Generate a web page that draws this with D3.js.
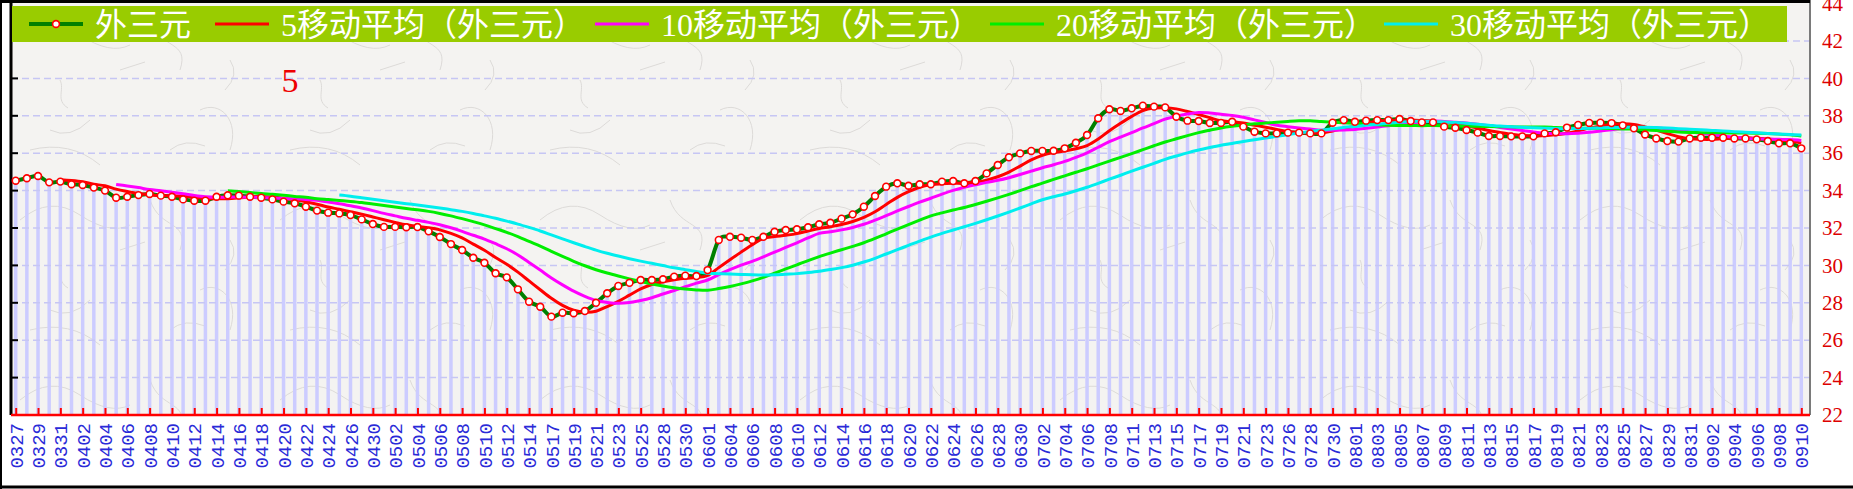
<!DOCTYPE html>
<html lang="zh">
<head>
<meta charset="UTF-8">
<title>外三元</title>
<script src="https://d3js.org/d3.v7.min.js"></script>
<style>
  body { margin: 0; background: #fff; }
  svg { display: block; }
</style>
</head>
<body>
<svg id="chart" width="1853" height="489"></svg>
<script>
// tick labels (every second draw)
const dateLabels = ['0327','0329','0331','0402','0404','0406','0408','0410','0412','0414','0416','0418','0420','0422','0424','0426','0430','0502','0504','0506','0508','0510','0512','0514','0517','0519','0521','0523','0525','0528','0530','0601','0604','0606','0608','0610','0612','0614','0616','0618','0620','0622','0624','0626','0628','0630','0702','0704','0706','0708','0711','0713','0715','0717','0719','0721','0723','0726','0728','0730','0801','0803','0805','0807','0809','0811','0813','0815','0817','0819','0821','0823','0825','0827','0829','0831','0902','0904','0906','0908','0910'];

// 外三元
const values = [34.53,34.66,34.78,34.44,34.48,34.34,34.30,34.16,34.00,33.62,
  33.67,33.76,33.82,33.73,33.67,33.53,33.46,33.46,33.67,33.75,
  33.73,33.67,33.62,33.53,33.41,33.32,33.14,32.93,32.82,32.78,
  32.69,32.46,32.21,32.06,32.06,32.04,32.05,31.82,31.52,31.14,
  30.82,30.41,30.14,29.58,29.36,28.72,28.06,27.79,27.26,27.47,
  27.44,27.56,28.00,28.51,28.90,29.07,29.22,29.22,29.26,29.40,
  29.45,29.43,29.75,31.36,31.53,31.48,31.36,31.53,31.80,31.89,
  31.93,32.04,32.20,32.28,32.50,32.73,33.14,33.71,34.21,34.39,
  34.26,34.34,34.34,34.48,34.51,34.39,34.51,34.92,35.37,35.78,
  35.99,36.12,36.12,36.13,36.26,36.56,36.97,37.87,38.35,38.26,
  38.40,38.54,38.49,38.45,37.95,37.74,37.72,37.62,37.62,37.68,
  37.42,37.15,37.06,37.06,37.10,37.10,37.06,37.06,37.63,37.77,
  37.68,37.74,37.77,37.77,37.83,37.72,37.65,37.65,37.42,37.36,
  37.24,37.10,36.92,36.92,36.90,36.90,36.90,37.06,37.12,37.37,
  37.51,37.62,37.63,37.61,37.49,37.33,37.00,36.79,36.65,36.62,
  36.79,36.83,36.83,36.83,36.79,36.79,36.74,36.65,36.53,36.53,
  36.26];

// moving averages, first value sits on draw index 4 / 9 / 19 / 29
const ma5 = [34.58,34.54,34.47,34.34,34.26,34.08,33.95,33.84,33.77,33.72,
  33.73,33.70,33.64,33.57,33.56,33.57,33.61,33.66,33.69,33.66,
  33.59,33.51,33.40,33.27,33.12,33.00,32.87,32.74,32.59,32.44,
  32.30,32.17,32.08,32.01,31.90,31.71,31.47,31.14,30.81,30.42,
  30.06,29.64,29.17,28.70,28.24,27.86,27.60,27.50,27.55,27.80,
  28.08,28.41,28.74,28.98,29.13,29.23,29.31,29.35,29.46,29.88,
  30.30,30.71,31.10,31.45,31.54,31.61,31.70,31.84,31.97,32.07,
  32.19,32.35,32.57,32.87,33.26,33.64,33.94,34.18,34.31,34.36,
  34.39,34.41,34.45,34.56,34.74,34.99,35.31,35.64,35.88,36.03,
  36.12,36.24,36.41,36.76,37.20,37.60,37.97,38.28,38.41,38.43,
  38.37,38.23,38.07,37.90,37.73,37.68,37.61,37.50,37.39,37.27,
  37.16,37.09,37.08,37.08,37.19,37.32,37.44,37.58,37.72,37.75,
  37.76,37.77,37.75,37.72,37.65,37.56,37.46,37.35,37.21,37.11,
  37.02,36.95,36.91,36.94,36.98,37.07,37.19,37.34,37.45,37.55,
  37.57,37.54,37.41,37.24,37.05,36.88,36.77,36.74,36.74,36.78,
  36.81,36.81,36.80,36.76,36.70,36.65,36.54];

const ma10 = [34.33,34.25,34.16,34.06,33.99,33.91,33.83,33.74,33.67,33.64,
  33.65,33.66,33.65,33.63,33.61,33.58,33.56,33.53,33.48,33.39,
  33.30,33.19,33.07,32.93,32.78,32.65,32.52,32.41,32.30,32.17,
  32.01,31.82,31.61,31.41,31.16,30.89,30.56,30.16,29.75,29.33,
  28.96,28.62,28.34,28.12,28.02,27.97,28.01,28.12,28.27,28.47,
  28.66,28.86,29.05,29.22,29.51,29.77,30.01,30.22,30.46,30.71,
  30.96,31.21,31.47,31.71,31.80,31.90,32.03,32.20,32.42,32.66,
  32.91,33.15,33.38,33.59,33.81,34.01,34.18,34.31,34.44,34.55,
  34.69,34.86,35.04,35.22,35.38,35.56,35.78,36.02,36.32,36.62,
  36.86,37.10,37.35,37.58,37.82,37.98,38.10,38.18,38.15,38.08,
  38.02,37.92,37.78,37.64,37.50,37.42,37.35,37.29,37.23,37.23,
  37.24,37.27,37.33,37.40,37.47,37.54,37.60,37.66,37.72,37.70,
  37.66,37.62,37.55,37.47,37.38,37.29,37.21,37.13,37.07,37.04,
  37.04,37.07,37.12,37.19,37.26,37.32,37.36,37.37,37.35,37.30,
  37.23,37.15,37.07,36.99,36.92,36.85,36.79,36.77,36.75,36.74,
  36.73,36.68];

const ma20 = [33.99,33.95,33.90,33.84,33.80,33.75,33.69,33.64,33.57,33.52,
  33.47,33.42,33.36,33.28,33.20,33.12,33.04,32.97,32.89,32.78,
  32.65,32.50,32.34,32.17,31.97,31.77,31.54,31.28,31.03,30.75,
  30.48,30.22,29.98,29.77,29.59,29.43,29.28,29.14,29.01,28.90,
  28.81,28.74,28.69,28.67,28.76,28.87,29.01,29.17,29.36,29.59,
  29.81,30.03,30.26,30.47,30.66,30.84,31.02,31.21,31.44,31.69,
  31.94,32.18,32.42,32.65,32.81,32.96,33.10,33.26,33.43,33.61,
  33.80,34.00,34.21,34.40,34.60,34.79,34.98,35.17,35.38,35.58,
  35.78,35.98,36.19,36.40,36.60,36.77,36.94,37.10,37.23,37.35,
  37.44,37.51,37.57,37.61,37.66,37.70,37.73,37.73,37.69,37.66,
  37.63,37.60,37.56,37.52,37.49,37.48,37.48,37.47,37.48,37.47,
  37.45,37.44,37.44,37.43,37.42,37.41,37.40,37.40,37.40,37.37,
  37.35,37.34,37.34,37.33,37.32,37.30,37.29,37.25,37.21,37.17,
  37.13,37.11,37.10,37.09,37.09,37.08,37.08,37.07,37.05,37.02,
  36.98,36.92];

const ma30 = [33.76,33.70,33.62,33.54,33.46,33.38,33.30,33.23,33.15,33.07,
  32.98,32.89,32.78,32.65,32.52,32.37,32.21,32.03,31.84,31.63,
  31.42,31.21,31.01,30.82,30.65,30.50,30.36,30.23,30.11,29.99,
  29.87,29.77,29.67,29.58,29.56,29.54,29.52,29.50,29.49,29.50,
  29.53,29.56,29.62,29.69,29.78,29.88,30.01,30.18,30.38,30.61,
  30.84,31.07,31.30,31.51,31.71,31.89,32.07,32.25,32.44,32.64,
  32.85,33.07,33.29,33.51,33.67,33.82,33.99,34.18,34.39,34.61,
  34.82,35.04,35.25,35.46,35.67,35.85,36.02,36.17,36.30,36.42,
  36.52,36.63,36.72,36.81,36.90,36.99,37.08,37.16,37.23,37.31,
  37.38,37.43,37.49,37.54,37.60,37.65,37.69,37.71,37.70,37.67,
  37.64,37.60,37.55,37.50,37.45,37.42,37.39,37.36,37.34,37.32,
  37.31,37.32,37.33,37.35,37.37,37.38,37.39,37.39,37.38,37.35,
  37.31,37.28,37.25,37.22,37.19,37.15,37.12,37.09,37.06,37.03,
  37.00,36.97];

const yTicks = [22,24,26,28,30,32,34,36,38,40,42,44];
const seriesNames = ['外三元','5移动平均（外三元）','10移动平均（外三元）','20移动平均（外三元）','30移动平均（外三元）'];

const svg = d3.select('#chart');
const W = 1853, H = 489;
const plotL = 11, plotR = 1810, plotB = 415;

const x = d3.scaleLinear().domain([0, values.length - 1]).range([15.7, 1801.3]);
const y = d3.scaleLinear().domain([22, 44]).range([plotB, 3.6]);

// paper-like background
const defs = svg.append('defs');
const pat = defs.append('pattern').attr('id', 'paper')
  .attr('patternUnits', 'userSpaceOnUse').attr('width', 260).attr('height', 180);
pat.append('rect').attr('width', 260).attr('height', 180).attr('fill', '#f4f3f1');
pat.selectAll('path')
  .data(['M20,40 q30,-25 60,-5 t50,10', 'M150,20 c10,30 40,20 30,50', 'M90,120 q-20,20 -40,10',
         'M200,110 c20,-10 40,10 30,40', 'M30,150 q40,-10 70,15', 'M120,70 l25,-8', 'M230,60 q10,15 -5,30',
         'M60,80 c5,10 -5,20 8,28', 'M170,150 q15,-12 35,-4'])
  .join('path').attr('d', d => d).attr('fill', 'none')
  .attr('stroke', '#d9d7d5').attr('stroke-width', 0.9);

svg.append('rect').attr('width', W).attr('height', H).attr('fill', '#fff');
svg.append('rect').attr('x', plotL).attr('y', 0).attr('width', plotR - plotL).attr('height', plotB)
  .attr('fill', 'url(#paper)');

// bars under each draw
svg.append('g').selectAll('rect').data(values).join('rect')
  .attr('x', (d, i) => x(i) - 1.75).attr('width', 3.5)
  .attr('y', d => y(d)).attr('height', d => y(22) - y(d))
  .attr('fill', '#ccccff');

// dashed grid
const gridVals = yTicks.filter(v => v > 22 && v < 44);
svg.append('g').selectAll('line').data(gridVals).join('line')
  .attr('x1', plotL).attr('x2', plotR).attr('y1', d => y(d)).attr('y2', d => y(d))
  .attr('stroke', '#c6c6f4').attr('stroke-width', 1.5).attr('stroke-dasharray', '7,4');

// left axis + inner ticks
svg.append('line').attr('x1', plotL).attr('x2', plotL).attr('y1', 0).attr('y2', plotB)
  .attr('stroke', '#000').attr('stroke-width', 3);
svg.append('g').selectAll('line').data(gridVals).join('line')
  .attr('x1', plotL).attr('x2', plotL + 7).attr('y1', d => y(d)).attr('y2', d => y(d))
  .attr('stroke', '#000').attr('stroke-width', 2);

// right frame of plot, top edge
svg.append('line').attr('x1', plotR).attr('x2', plotR).attr('y1', 0).attr('y2', plotB)
  .attr('stroke', '#7a7a7a').attr('stroke-width', 2);
svg.append('line').attr('x1', 0).attr('x2', plotR).attr('y1', 1.5).attr('y2', 1.5)
  .attr('stroke', '#000').attr('stroke-width', 3);

// outer frame
svg.append('line').attr('x1', 1).attr('x2', 1).attr('y1', 0).attr('y2', H)
  .attr('stroke', '#000').attr('stroke-width', 2);
svg.append('line').attr('x1', 0).attr('x2', W).attr('y1', H - 2).attr('y2', H - 2)
  .attr('stroke', '#000').attr('stroke-width', 3);

// lines
const line = d3.line().x(d => x(d[0])).y(d => y(d[1])).curve(d3.curveCardinal.tension(0));
const mainPts = values.map((v, i) => [i, v]);
svg.append('path').attr('d', line(mainPts)).attr('fill', 'none')
  .attr('stroke', '#008000').attr('stroke-width', 4);

const maSeries = [
  { vals: ma5, start: 4, color: '#ff0000' },
  { vals: ma10, start: 9, color: '#ff00ff' },
  { vals: ma20, start: 19, color: '#00ee00' },
  { vals: ma30, start: 29, color: '#00eeee' }
];
maSeries.forEach(s => {
  svg.append('path').attr('d', line(s.vals.map((v, k) => [k + s.start, v])))
    .attr('fill', 'none').attr('stroke', s.color).attr('stroke-width', 3);
});

svg.append('g').selectAll('circle').data(mainPts).join('circle')
  .attr('cx', d => x(d[0])).attr('cy', d => y(d[1])).attr('r', 3.4)
  .attr('fill', '#fff').attr('stroke', '#ff0000').attr('stroke-width', 1.6);

// x axis
svg.append('line').attr('x1', plotL).attr('x2', plotR).attr('y1', plotB).attr('y2', plotB)
  .attr('stroke', '#ff0000').attr('stroke-width', 2.5);
const xAxis = d3.axisBottom(x)
  .tickValues(d3.range(0, values.length, 2))
  .tickFormat(i => dateLabels[i / 2])
  .tickSizeInner(-7).tickSizeOuter(0);
const gx = svg.append('g').attr('transform', `translate(0,${plotB})`).call(xAxis);
gx.select('.domain').remove();
gx.selectAll('.tick line').attr('stroke', '#ff0000').attr('stroke-width', 2);
gx.selectAll('.tick text')
  .attr('transform', 'rotate(-90)').attr('x', -8).attr('y', 0).attr('dy', '0.35em')
  .style('text-anchor', 'end')
  .attr('fill', '#2a2ad8')
  .style('font-family', '"Liberation Mono", monospace').style('font-size', '19px');

// y axis on the right
const yAxis = d3.axisRight(y).tickValues(yTicks).tickSize(0).tickPadding(12);
const gy = svg.append('g').attr('transform', `translate(${plotR},0)`).call(yAxis);
gy.select('.domain').remove();
gy.selectAll('.tick text').attr('fill', '#dd0000')
  .style('font-family', '"Liberation Serif", serif').style('font-size', '21px');

// legend
const legendColors = ['#008000', '#ff0000', '#ff00ff', '#00ee00', '#00eeee'];
const legendTextX = [95, 281, 661, 1056, 1450];
svg.append('rect').attr('x', 12).attr('y', 6).attr('width', 1775).attr('height', 36).attr('fill', '#99cc00');
const lg = svg.append('g').selectAll('g').data(seriesNames).join('g');
lg.append('line')
  .attr('x1', (d, i) => legendTextX[i] - 66).attr('x2', (d, i) => legendTextX[i] - 12)
  .attr('y1', 24).attr('y2', 24)
  .attr('stroke', (d, i) => legendColors[i]).attr('stroke-width', (d, i) => i === 0 ? 4 : 3);
lg.filter((d, i) => i === 0).append('circle')
  .attr('cx', legendTextX[0] - 39).attr('cy', 24).attr('r', 3.4)
  .attr('fill', '#fff').attr('stroke', '#ff0000').attr('stroke-width', 1.6);
lg.append('text')
  .attr('x', (d, i) => legendTextX[i]).attr('y', 25).attr('dominant-baseline', 'central')
  .attr('fill', '#fff')
  .style('font-family', '"Liberation Serif", "Noto Sans CJK SC", serif').style('font-size', '32px')
  .text(d => d);

// period marker
svg.append('text').attr('x', 290).attr('y', 80).attr('dominant-baseline', 'central')
  .attr('text-anchor', 'middle').attr('fill', '#ee0000')
  .style('font-family', '"Liberation Serif", serif').style('font-size', '34px')
  .text('5');
</script>
</body>
</html>
